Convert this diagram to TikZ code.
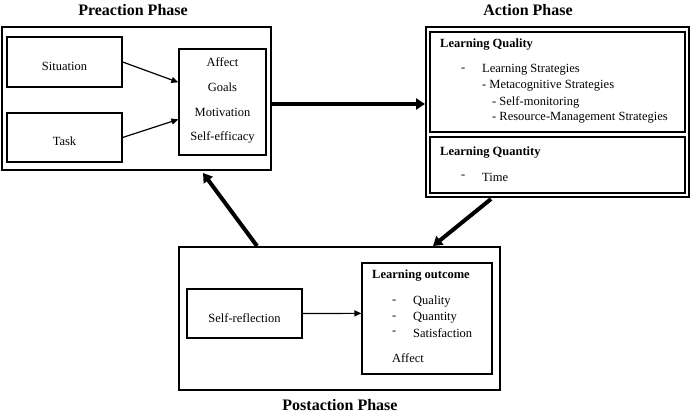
\documentclass[tikz,border=0pt]{standalone}
\usepackage{fontspec}
\setmainfont{Liberation Serif}
\usetikzlibrary{arrows.meta,fit,calc}
\begin{document}
\begin{tikzpicture}[x=1pt,y=-1pt,
  outerbox/.style={draw,line width=2pt,inner sep=0pt},
  box/.style={draw,line width=1.3pt,inner sep=0pt},
  txt/.style={inner sep=0pt,font=\fontsize{12.5}{15}\selectfont},
  btxt/.style={inner sep=0pt,font=\fontsize{12.5}{15}\selectfont\bfseries},
  title/.style={inner sep=0pt,font=\fontsize{16}{19}\selectfont\bfseries},
  thin/.style={line width=1.2pt,-{Triangle[length=7pt,width=6pt]}},
  thick/.style={line width=4pt,-{Triangle[length=9pt,width=11pt]}}]
\useasboundingbox (0,0) rectangle (690,414);
% titles
\node[title] (t1) at (133,10) {Preaction Phase};
\node[title] (t2) at (528,10) {Action Phase};
\node[title] (t3) at (340,405) {Postaction Phase};
% preaction
\node[outerbox,fit={(2,27) (271,170)}] (pre) {};
\node[box,fit={(7,37) (122,87)}] (sit) {};
\node[box,fit={(7,113) (122,162)}] (task) {};
\node[box,fit={(179,49) (266,155)}] (aff) {};
\node[txt] (sitt) at (64.5,66) {Situation};
\node[txt] (taskt) at (64.5,141) {Task};
\node[txt] (a1) at (222.5,62) {Affect};
\node[txt] (a2) at (222.5,87) {Goals};
\node[txt] (a3) at (222.5,112) {Motivation};
\node[txt] (a4) at (222.5,137) {Self-efficacy};
\coordinate (aff1) at ($(aff.north west)+(0,34)$);
\coordinate (aff2) at ($(aff.north west)+(0,71)$);
\draw[thin] (sit.east) -- (aff1);
\draw[thin] (task.east) -- (aff2);
% action
\node[outerbox,fit={(426,27) (689,197)}] (act) {};
\node[box,fit={(430,32) (685,132)}] (lq) {};
\node[box,fit={(430,137) (685,193)}] (lqt) {};
\node[btxt,anchor=west] (lqh) at (440,45) {Learning Quality};
\node[txt,anchor=west] (d1) at (461,70) {-};
\node[txt,anchor=west] (s1) at (482,70) {Learning Strategies};
\node[txt,anchor=west] (s2) at (482,86) {- Metacognitive Strategies};
\node[txt,anchor=west] (s3) at (492,102) {- Self-monitoring};
\node[txt,anchor=west] (s4) at (492,118) {- Resource-Management Strategies};
\node[btxt,anchor=west] (lqth) at (440,153) {Learning Quantity};
\node[txt,anchor=west] (d2) at (461,177) {-};
\node[txt,anchor=west] (tm) at (482,177) {Time};
% postaction
\node[outerbox,fit={(179,247) (500,390)}] (post) {};
\node[box,fit={(187,289) (302,338)}] (sr) {};
\node[box,fit={(362,263) (492,374)}] (lo) {};
\node[txt] (srt) at (244.5,318) {Self-reflection};
\node[btxt,anchor=west] (loh) at (372,276) {Learning outcome};
\node[txt,anchor=west] (e1) at (392,302) {-};
\node[txt,anchor=west] (q1) at (413,302) {Quality};
\node[txt,anchor=west] (e2) at (392,318) {-};
\node[txt,anchor=west] (q2) at (413,318) {Quantity};
\node[txt,anchor=west] (e3) at (392,333) {-};
\node[txt,anchor=west] (q3) at (413,333) {Satisfaction};
\node[txt,anchor=west] (q4) at (392,358) {Affect};
\coordinate (lo1) at ($(lo.north west)+(0,51)$);
\draw[thin] (sr.east) -- (lo1);
% phase arrows
\draw[thick] (pre.east |- 0,104) -- (act.west |- 0,104);
\draw[thick] ($(act.south west)+(66,1)$) -- ($(post.north east)+(-68,0)$);
\draw[thick] ($(post.north west)+(79,0)$) -- ($(pre.south west)+(202,2)$);
\end{tikzpicture}
\end{document}
